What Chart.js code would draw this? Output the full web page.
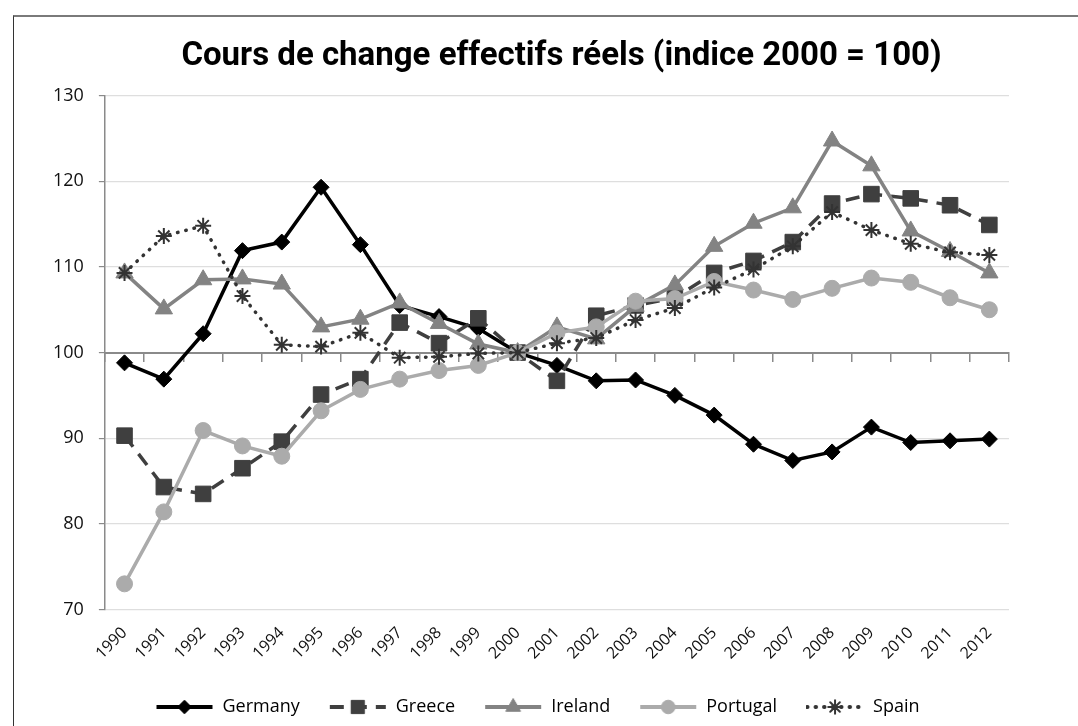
<!DOCTYPE html>
<html>
<head>
<meta charset="utf-8">
<script src="https://cdn.jsdelivr.net/npm/chart.js@4"></script>
<style>
    html, body { margin: 0; padding: 0; background: #fff; overflow: hidden; }
    #frame {
        position: absolute; left: 13px; top: 15px;
        width: 1100px; height: 720px;
        border-top: 2px solid #7a7a7a; border-left: 1px solid #333;
    }
    #chart { position: absolute; left: 0; top: 0; }
</style>
</head>
<body>
<div id="frame"><canvas id="chart" width="1086" height="709"></canvas></div>
<script>
// Years on the x axis
const years = ['1990', '1991', '1992', '1993', '1994', '1995', '1996', '1997', '1998', '1999',
    '2000', '2001', '2002', '2003', '2004', '2005', '2006', '2007', '2008', '2009',
    '2010', '2011', '2012'];

const germany = [98.8, 96.9, 102.2, 111.9, 112.9, 119.3, 112.6, 105.5, 104.2, 102.8, 100,
    98.5, 96.7, 96.8, 95.0, 92.7, 89.3, 87.4, 88.4, 91.3, 89.5, 89.7, 89.9];
const greece = [90.3, 84.3, 83.5, 86.5, 89.6, 95.1, 96.9, 103.5, 101.1, 104.0, 100,
    96.7, 104.3, 105.5, 106.4, 109.3, 110.7, 112.9, 117.4, 118.5, 118.0, 117.2, 114.9];
const ireland = [109.3, 105.1, 108.5, 108.6, 108.0, 103.0, 103.9, 105.8, 103.4, 101.0, 100,
    103.0, 101.6, 105.4, 107.9, 112.4, 115.1, 116.9, 124.7, 121.8, 114.2, 111.8, 109.3];
const portugal = [73.0, 81.4, 90.9, 89.1, 87.9, 93.2, 95.7, 96.9, 97.9, 98.5, 100,
    102.3, 103.0, 106.0, 106.3, 108.3, 107.3, 106.2, 107.5, 108.7, 108.2, 106.4, 105.0];
const spain = [109.3, 113.6, 114.8, 106.6, 100.9, 100.7, 102.3, 99.4, 99.5, 99.9, 100,
    101.1, 101.7, 103.8, 105.2, 107.6, 109.7, 112.4, 116.4, 114.3, 112.7, 111.7, 111.4];

// Y axis range and step
const yMin = 70;
const yMax = 130;
const yStep = 10;

const tickFont = { family: "'Open Sans', sans-serif", size: 18 };
const legendFont = { family: "'Open Sans', sans-serif", size: 18 };

// Small line + marker picture for each legend entry
function legendIcon(ds) {
    const c = document.createElement('canvas');
    c.width = 58;
    c.height = 22;
    const ctx = c.getContext('2d');
    ctx.strokeStyle = ds.borderColor;
    ctx.lineWidth = ds.borderWidth + 0.5;
    ctx.lineCap = ds.borderCapStyle || 'butt';
    ctx.setLineDash(ds.borderDash || []);
    ctx.beginPath();
    ctx.moveTo(1, 11);
    ctx.lineTo(57, 11);
    ctx.stroke();
    ctx.setLineDash([]);
    ctx.fillStyle = ds.pointBackgroundColor;
    ctx.strokeStyle = ds.pointBorderColor;
    ctx.lineWidth = ds.pointBorderWidth;
    Chart.helpers.drawPoint(ctx, {
        pointStyle: ds.pointStyle,
        radius: ds.pointRadius * 0.85,
        rotation: 0,
        borderWidth: ds.pointBorderWidth
    }, 29, 11);
    return c;
}

// The title sits a bit right of the plot centre in the original, the legend slightly too
const shiftBlocks = {
    id: 'shiftBlocks',
    afterLayout(chart) {
        if (chart.titleBlock) {
            chart.titleBlock.left += 38;
            chart.titleBlock.right += 38;
        }
        if (chart.legend) {
            chart.legend.left += 14;
            chart.legend.right += 14;
        }
    }
};

const datasets = [
    {
        label: 'Germany', data: germany, order: 5,
        borderColor: '#000', borderWidth: 3.5,
        pointStyle: 'rectRot', pointRadius: 8,
        pointBackgroundColor: '#000', pointBorderColor: '#000', pointBorderWidth: 1
    },
    {
        label: 'Greece', data: greece, order: 4,
        borderColor: '#3f3f3f', borderWidth: 3.5, borderDash: [14, 9],
        pointStyle: 'rect', pointRadius: 11,
        pointBackgroundColor: '#3f3f3f', pointBorderColor: '#3f3f3f', pointBorderWidth: 1
    },
    {
        label: 'Ireland', data: ireland, order: 3,
        borderColor: '#838383', borderWidth: 3.5,
        pointStyle: 'triangle', pointRadius: 10,
        pointBackgroundColor: '#838383', pointBorderColor: '#838383', pointBorderWidth: 1
    },
    {
        label: 'Portugal', data: portugal, order: 2,
        borderColor: '#ababab', borderWidth: 3.5,
        pointStyle: 'circle', pointRadius: 8,
        pointBackgroundColor: '#ababab', pointBorderColor: '#ababab', pointBorderWidth: 1
    },
    {
        label: 'Spain', data: spain, order: 1,
        borderColor: '#333', borderWidth: 3.5, borderDash: [0.5, 8], borderCapStyle: 'round',
        pointStyle: 'star', pointRadius: 8,
        pointBackgroundColor: '#333', pointBorderColor: '#333', pointBorderWidth: 2
    }
];

new Chart(document.getElementById('chart'), {
    type: 'line',
    data: { labels: years, datasets: datasets },
    plugins: [shiftBlocks],
    options: {
        responsive: false,
        animation: false,
        clip: false,
        elements: { line: { tension: 0 } },
        layout: { padding: { left: 24, right: 91, top: 0, bottom: 0 } },
        plugins: {
            tooltip: { enabled: false },
            title: {
                display: true,
                text: 'Cours de change effectifs réels (indice 2000 = 100)',
                color: '#000',
                font: { family: "Roboto, sans-serif", size: 33, weight: 'bold' },
                padding: { top: 20, bottom: 19 }
            },
            legend: {
                position: 'bottom',
                labels: {
                    usePointStyle: true,
                    pointStyleWidth: 58,
                    padding: 29,
                    color: '#000',
                    font: legendFont,
                    generateLabels: chart => chart.data.datasets.map((ds, i) => ({
                        text: ds.label,
                        pointStyle: legendIcon(ds),
                        datasetIndex: i,
                        fillStyle: 'transparent',
                        strokeStyle: 'transparent',
                        lineWidth: 0,
                        hidden: false
                    }))
                }
            }
        },
        scales: {
            // axis line crossing at 100, tick marks between the years
            x: {
                type: 'category',
                offset: true,
                position: { y: 100 },
                ticks: { display: false },
                grid: {
                    offset: true, drawOnChartArea: false, drawTicks: true,
                    tickLength: 8, tickColor: '#8a8a8a', lineWidth: 1.5
                },
                border: { color: '#8a8a8a', width: 2 }
            },
            // year labels at the bottom
            xl: {
                type: 'category',
                position: 'bottom',
                offset: true,
                grid: { display: false },
                border: { display: false },
                ticks: {
                    autoSkip: false, minRotation: 45, maxRotation: 45,
                    font: { family: "'Open Sans', sans-serif", size: 16 },
                    color: '#111', padding: 6
                }
            },
            y: {
                min: yMin,
                max: yMax,
                ticks: { stepSize: yStep, font: tickFont, color: '#111', padding: 15 },
                grid: { color: '#dedede', lineWidth: 1.2, tickColor: '#8a8a8a', tickLength: 6 },
                border: { color: '#8a8a8a', width: 1.5 }
            }
        }
    }
});
</script>
</body>
</html>
